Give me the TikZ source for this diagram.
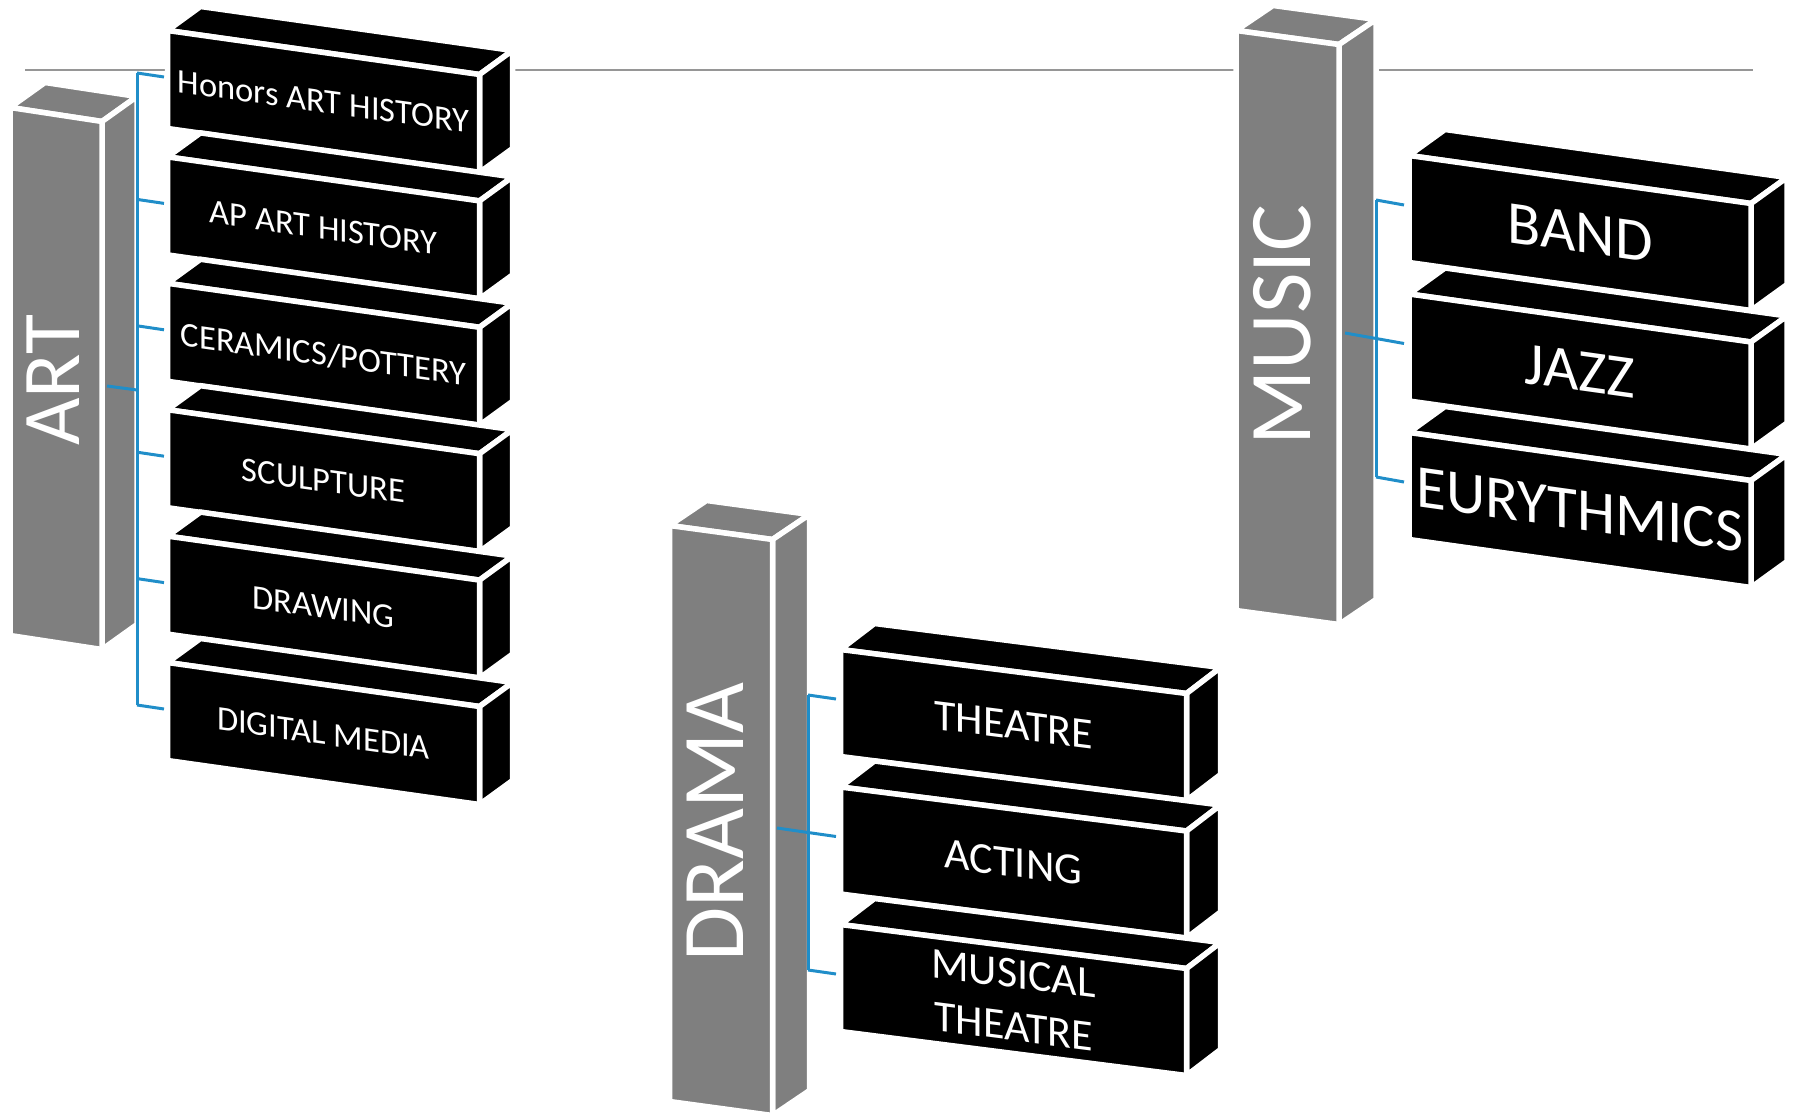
\documentclass[tikz,border=0pt]{standalone}
\usepackage{fontspec}
\newfontfamily\carlito{Carlito}
\usepackage{tikz}
\definecolor{pillargray}{RGB}{127,127,127}
\definecolor{linkblue}{RGB}{32,142,201}
\definecolor{rulegray}{RGB}{150,150,150}
% one block: #1,#2 front top-left, #3 width, #4 height, #5 drop, #6,#7 depth, #8 fill
\newcommand{\slab}[8]{%
  \filldraw[face,fill=#8] (#1,#2) -- (#1+#6,#2-#7) -- (#1+#3+#6,#2+#5-#7) -- (#1+#3,#2+#5) -- cycle;
  \filldraw[face,fill=#8] (#1+#3,#2+#5) -- (#1+#3+#6,#2+#5-#7) -- (#1+#3+#6,#2+#5+#4-#7) -- (#1+#3,#2+#5+#4) -- cycle;
  \filldraw[face,fill=#8] (#1,#2) -- (#1+#3,#2+#5) -- (#1+#3,#2+#5+#4) -- (#1,#2+#4) -- cycle;
}
\tikzset{face/.style={draw=white,line width=0.55mm},
         boxtext/.style={text=white,inner sep=0pt,align=center},
         pillartext/.style={text=white,inner sep=0pt,font={\carlito\fontsize{8.8mm}{10mm}\selectfont}},
         artfont/.style={font={\carlito\fontsize{3.45mm}{4.1mm}\selectfont}},
         musicfont/.style={font={\carlito\fontsize{6.1mm}{7mm}\selectfont}},
         dramafont/.style={font={\carlito\fontsize{4.4mm}{5.3mm}\selectfont}},
         branch/.style={draw=linkblue,line width=0.3mm},
         rule/.style={draw=rulegray,line width=0.2mm}}
\begin{document}
\begin{tikzpicture}[x=0.1mm,y=-0.1mm]
\useasboundingbox (0,0) rectangle (1798,1114);
\coordinate (ruleL) at (25,70);
\coordinate (ruleR) at (1753,70);
\draw[rule] (ruleL) -- (ruleR);
% ART
\slab{10}{107.5}{92}{528}{14}{35}{25}{pillargray}
\node[pillartext,font={\carlito\fontsize{8.2mm}{10mm}\selectfont},rotate=90] (art) at (53,380) {ART};
\foreach \i/\txt in {0/Honors ART HISTORY,1/AP ART HISTORY,2/{CERAMICS/POTTERY},3/SCULPTURE,4/DRAWING,5/DIGITAL MEDIA}{
  \pgfmathsetmacro\y{30.5+126.4*\i}
  \slab{167.5}{\y}{312}{98}{44}{33}{24}{black}
  \node[boxtext,artfont,yslant=-0.141] (art\i) at (323.5,\y+71) {\txt};
  \coordinate (art\i-out) at (137,\y+42.5);
  \coordinate (art\i-in) at (164,\y+46.5);
}
\coordinate (art-side) at (107,386);
\coordinate (art-join) at (137,390);
% MUSIC
\slab{1236}{30.5}{103}{580}{14}{37}{25}{pillargray}
\node[pillartext,rotate=90] (music) at (1282,325) {MUSIC};
\foreach \i/\txt in {0/BAND,1/JAZZ,2/EURYTHMICS}{
  \pgfmathsetmacro\y{155.5+138.5*\i}
  \slab{1409}{\y}{342}{107}{48}{36}{26}{black}
  \node[boxtext,musicfont,yslant=-0.14] (mus\i) at (1580,\y+77.5) {\txt};
  \coordinate (mus\i-out) at (1376,\y+44.5);
  \coordinate (mus\i-in) at (1404,\y+49.5);
}
\coordinate (mus-side) at (1345,333);
% DRAMA
\slab{669.5}{525.5}{103}{576}{14}{37}{25}{pillargray}
\node[pillartext,rotate=90] (drama) at (715,822) {DRAMA};
\foreach \i/\txt in {0/THEATRE,1/ACTING,2/{MUSICAL\\THEATRE}}{
  \pgfmathsetmacro\y{649.5+137.5*\i}
  \slab{840.5}{\y}{346}{107}{44}{34}{26}{black}
  \node[boxtext,dramafont,yslant=-0.127] (dra\i) at (1013.5,\y+75.5) {\txt};
  \coordinate (dra\i-out) at (808,\y+45.5);
  \coordinate (dra\i-in) at (836,\y+49.5);
}
\coordinate (dra-side) at (777,828);
% connectors
\draw[branch] (art0-out) -- (art5-out);
\foreach \i in {0,...,5}
  \draw[branch] (art\i-out) -- (art\i-in);
\draw[branch] (art-side) -- (art-join);
\draw[branch] (mus0-out) -- (mus2-out);
\foreach \i in {0,1,2}
  \draw[branch] (mus\i-out) -- (mus\i-in);
\draw[branch] (mus-side) -- (mus1-out);
\draw[branch] (dra0-out) -- (dra2-out);
\foreach \i in {0,1,2}
  \draw[branch] (dra\i-out) -- (dra\i-in);
\draw[branch] (dra-side) -- (dra1-out);
\end{tikzpicture}
\end{document}
